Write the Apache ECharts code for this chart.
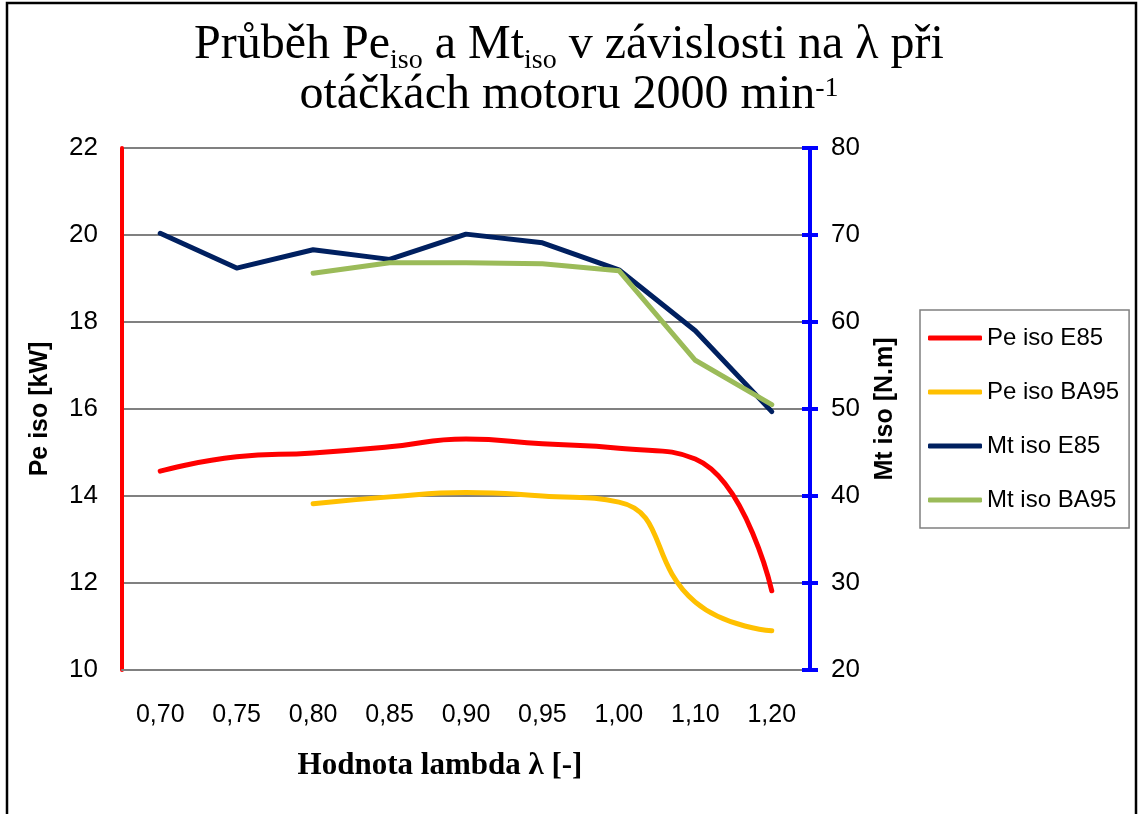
<!DOCTYPE html>
<html>
<head>
<meta charset="utf-8">
<script src="https://cdn.jsdelivr.net/npm/echarts@6/dist/echarts.min.js"></script>
<style>
  html, body { margin: 0; padding: 0; background: #fff; }
  #main { width: 1138px; height: 814px; }
</style>
</head>
<body>
<div id="main"></div>
<script>
// hodnoty
var categories = ['0,70', '0,75', '0,80', '0,85', '0,90', '0,95', '1,00', '1,10', '1,20'];
var peE85 = [14.57, 14.9, 14.99, 15.13, 15.31, 15.2, 15.1, 14.85, 11.82];
var peBA95 = [null, null, 13.82, 13.98, 14.08, 14.0, 13.86, 11.56, 10.9];
var mtE85 = [70.2, 66.2, 68.3, 67.2, 70.1, 69.1, 66.0, 59.0, 49.7];
var mtBA95 = [null, null, 65.6, 66.8, 66.8, 66.7, 65.9, 55.6, 50.5];

var sans = 'Liberation Sans, Arial, sans-serif';
var serif = 'Liberation Serif, Times New Roman, serif';

var myChart = echarts.init(document.getElementById('main'));

function line(name, data, color, yIdx, smooth) {
    return {
        name: name,
        type: 'line',
        yAxisIndex: yIdx,
        data: data,
        smooth: smooth ? 0.5 : false,
        symbol: 'none',
        lineStyle: { color: color, width: 5, cap: 'round', join: 'round' },
        itemStyle: { color: color }
    };
}

myChart.setOption({
    animation: false,
    title: {
        text: 'Průběh Pe{sub|iso} a Mt{sub|iso} v závislosti na λ při\notáčkách motoru 2000 min{sup|-1}',
        left: 'center',
        top: 15,
        textStyle: {
            fontFamily: serif,
            fontSize: 48,
            fontWeight: 'normal',
            color: '#000',
            lineHeight: 50,
            rich: {
                sub: { fontFamily: serif, fontSize: 28, color: '#000', verticalAlign: 'bottom', lineHeight: 28, padding: [0, 0, -5, 0] },
                sup: { fontFamily: serif, fontSize: 28, color: '#000', verticalAlign: 'top', lineHeight: 28, padding: [5, 0, 0, 0] }
            }
        }
    },
    legend: {
        orient: 'vertical',
        left: 920,
        top: 310,
        padding: [16, 10, 16, 8],
        itemGap: 30,
        itemWidth: 54,
        itemHeight: 5,
        icon: 'roundRect',
        borderColor: '#808080',
        borderWidth: 1.5,
        textStyle: { fontFamily: sans, fontSize: 24, color: '#000' },
        data: ['Pe iso E85', 'Pe iso BA95', 'Mt iso E85', 'Mt iso BA95']
    },
    grid: { left: 122, right: 328, top: 148, bottom: 144 },
    xAxis: {
        type: 'category',
        data: categories,
        boundaryGap: true,
        axisLine: { lineStyle: { color: '#808080', width: 2 } },
        axisTick: { show: false },
        axisLabel: { margin: 33, fontFamily: sans, fontSize: 25, color: '#000' },
        name: 'Hodnota lambda λ [-]',
        nameLocation: 'middle',
        nameGap: 80,
        nameTextStyle: { fontFamily: serif, fontSize: 31, fontWeight: 'bold', color: '#000', padding: [0, 52, 0, 0] }
    },
    yAxis: [{
        type: 'value',
        position: 'left',
        min: 10,
        max: 22,
        interval: 2,
        axisLine: { show: true, lineStyle: { color: '#ff0000', width: 4 } },
        axisTick: { show: false },
        axisLabel: { margin: 24, fontFamily: sans, fontSize: 26, color: '#000' },
        splitLine: { lineStyle: { color: '#808080', width: 2 } },
        name: 'Pe iso [kW]',
        nameLocation: 'middle',
        nameGap: 69,
        nameTextStyle: { fontFamily: sans, fontSize: 25, fontWeight: 'bold', color: '#000' }
    }, {
        type: 'value',
        position: 'right',
        min: 20,
        max: 80,
        interval: 10,
        axisLine: { show: true, lineStyle: { color: '#0000ff', width: 4 } },
        axisTick: { show: true, length: 8, lineStyle: { color: '#0000ff', width: 4 } },
        axisLabel: { margin: 21, fontFamily: sans, fontSize: 26, color: '#000' },
        splitLine: { show: false },
        name: 'Mt iso [N.m]',
        nameLocation: 'middle',
        nameGap: 63,
        nameTextStyle: { fontFamily: sans, fontSize: 25, fontWeight: 'bold', color: '#000' }
    }, {
        // vnitřní část křížových značek pravé osy
        type: 'value',
        position: 'right',
        min: 20,
        max: 80,
        interval: 10,
        axisLine: { show: false },
        axisTick: { show: true, inside: true, length: 8, lineStyle: { color: '#0000ff', width: 4 } },
        axisLabel: { show: false },
        splitLine: { show: false }
    }],
    series: [
        line('Pe iso E85', peE85, '#ff0000', 0, true),
        line('Pe iso BA95', peBA95, '#ffc000', 0, true),
        line('Mt iso E85', mtE85, '#002060', 1, false),
        line('Mt iso BA95', mtBA95, '#9bbb59', 1, false)
    ],
    graphic: [{
        type: 'rect',
        shape: { x: 7, y: 3, width: 1129, height: 830 },
        style: { fill: 'none', stroke: '#000', lineWidth: 2.5 },
        silent: true
    }]
});
</script>
</body>
</html>
